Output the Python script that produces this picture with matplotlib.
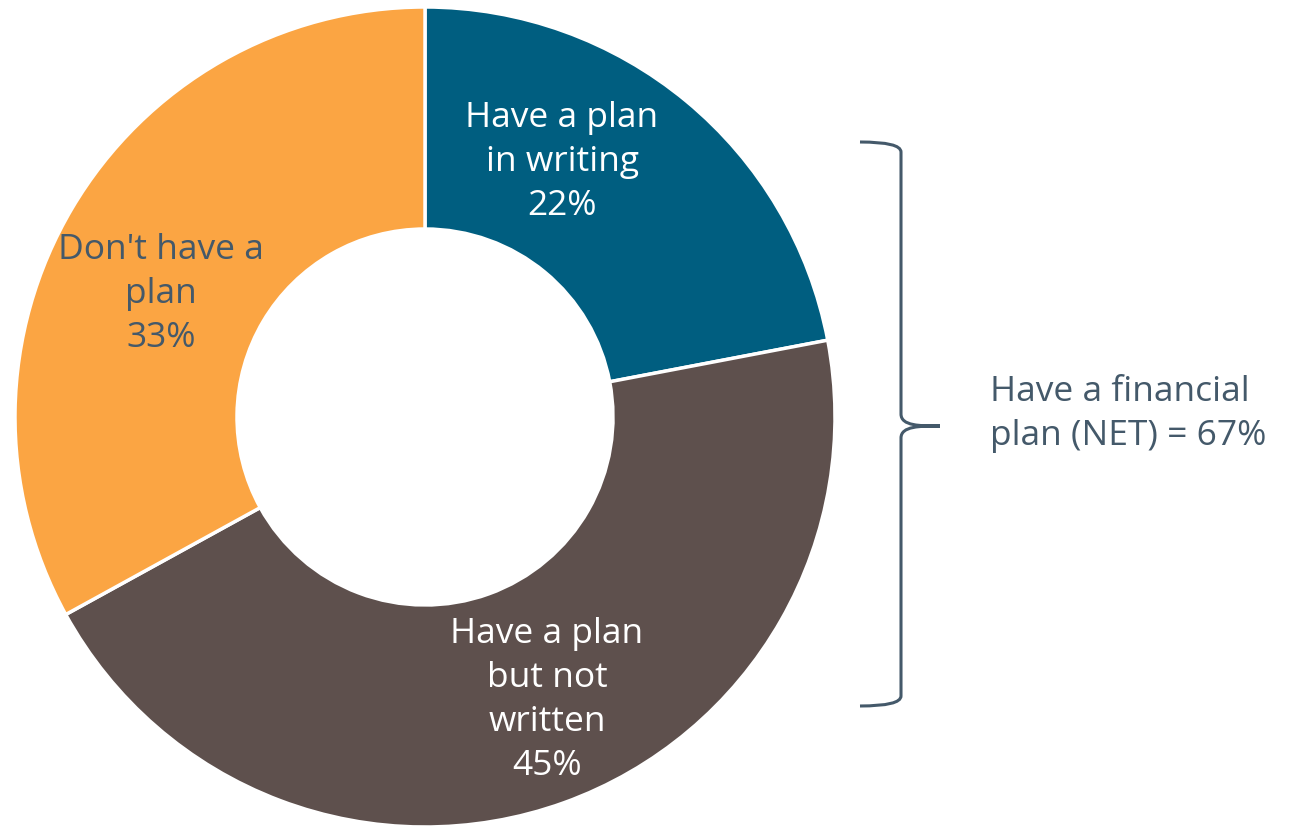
import matplotlib.pyplot as plt
from matplotlib.path import Path
from matplotlib.patches import PathPatch

# survey shares, clockwise from 12 o'clock
labels = ['Have a plan\nin writing', 'Have a plan\nbut not\nwritten', "Don't have a\nplan"]
shares = [22, 45, 33]
colors = ['#005e80', '#5e504d', '#fba543']
text_colors = ['white', 'white', '#44596a']
net_label = 'Have a financial\nplan (NET) = 67%'

plt.rcParams['font.family'] = ['Open Sans', 'DejaVu Sans']

W, H = 1291, 828
fig = plt.figure(figsize=(W / 100, H / 100), dpi=100)
ax = fig.add_axes([0, 0, 1, 1])

cx, cy, r = 425, 410, 410
wedges, _ = ax.pie(shares, colors=colors, startangle=90, counterclock=False,
                   center=(cx, cy), radius=r, frame=True,
                   wedgeprops=dict(width=r - 188, edgecolor='white', linewidth=2.5))

# label positions (pixel coords, y up)
label_pos = [(562, 666), (547, 128), (161, 534)]
for lab, s, (x, y), tc in zip(labels, shares, label_pos, text_colors):
    ax.text(x, y, f'{lab}\n{s}%', ha='center', va='center', color=tc,
            fontsize=25.5, linespacing=1.38)

# curly brace for the NET group
bc = '#44596a'
top, mid, bot = H - 143, H - 427, H - 707
xl, xv, xt = 860, 901, 940
verts = [(xl, top), (xv, top), (xv, top - 10),
         (xv, mid + 12),
         (xv, mid), (xt - 20, mid), (xt, mid),
         (xt - 20, mid), (xv, mid), (xv, mid - 12),
         (xv, bot + 10),
         (xv, bot), (xl, bot)]
codes = [Path.MOVETO, Path.CURVE3, Path.CURVE3,
         Path.LINETO,
         Path.CURVE4, Path.CURVE4, Path.CURVE4,
         Path.CURVE4, Path.CURVE4, Path.CURVE4,
         Path.LINETO,
         Path.CURVE3, Path.CURVE3]
ax.add_patch(PathPatch(Path(verts, codes), fill=False, edgecolor=bc, lw=2.2))

ax.text(990, H - 414, net_label, ha='left', va='center', color=bc,
        fontsize=25.5, linespacing=1.38)

ax.set_xlim(0, W)
ax.set_ylim(0, H)
ax.set_aspect('equal')
ax.axis('off')

fig.savefig('out.png', dpi=100)
